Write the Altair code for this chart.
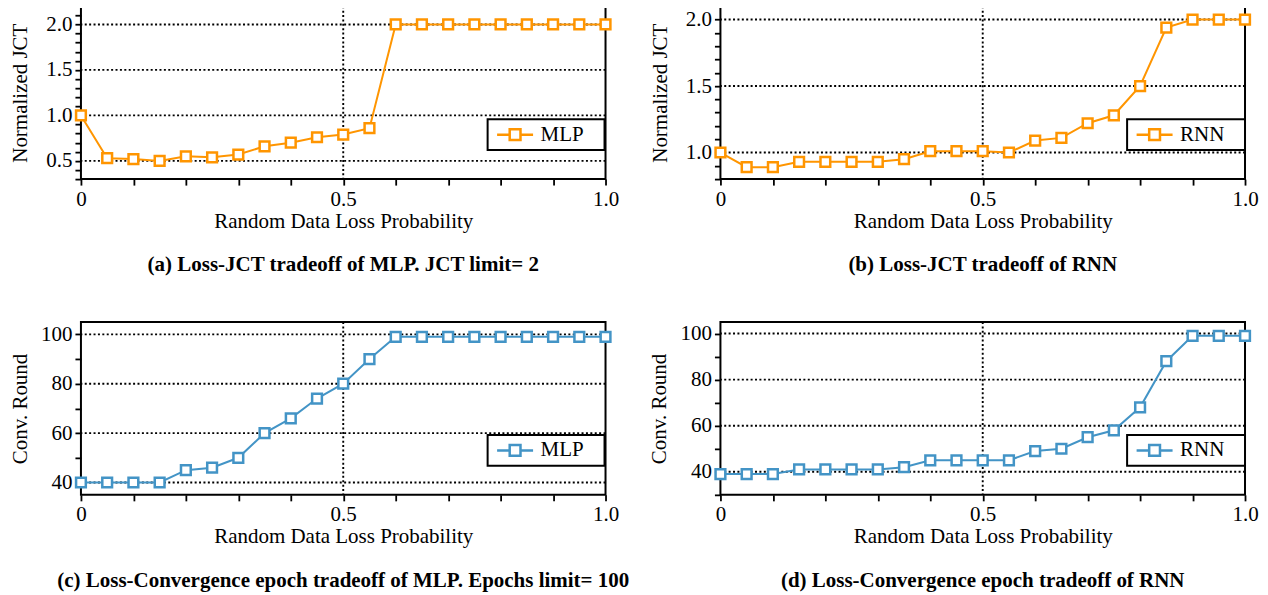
import altair as alt
import pandas as pd

# ---------------- data ----------------
loss_prob = [0.0, 0.05, 0.1, 0.15, 0.2, 0.25, 0.3, 0.35, 0.4, 0.45, 0.5,
             0.55, 0.6, 0.65, 0.7, 0.75, 0.8, 0.85, 0.9, 0.95, 1.0]
jct_mlp = [1.0, 0.53, 0.52, 0.50, 0.55, 0.54, 0.57, 0.66, 0.70, 0.76, 0.79,
           0.86, 2.0, 2.0, 2.0, 2.0, 2.0, 2.0, 2.0, 2.0, 2.0]
jct_rnn = [1.0, 0.89, 0.89, 0.93, 0.93, 0.93, 0.93, 0.95, 1.01, 1.01, 1.01,
           1.0, 1.09, 1.11, 1.22, 1.28, 1.50, 1.94, 2.0, 2.0, 2.0]
conv_mlp = [40, 40, 40, 40, 45, 46, 50, 60, 66, 74, 80,
            90, 99, 99, 99, 99, 99, 99, 99, 99, 99]
conv_rnn = [39, 39, 39, 41, 41, 41, 41, 42, 45, 45, 45,
            45, 49, 50, 55, 58, 68, 88, 99, 99, 99]

x_ticks = [0.0, 0.1, 0.2, 0.3, 0.4, 0.5, 0.6, 0.7, 0.8, 0.9, 1.0]
x_grid = [0.5]
jct_mlp_ticks = [0.3, 0.4, 0.5, 0.6, 0.7, 0.8, 0.9, 1.0, 1.1, 1.2, 1.3, 1.4,
                 1.5, 1.6, 1.7, 1.8, 1.9, 2.0, 2.1, 2.2]
jct_mlp_grid = [0.5, 1.0, 1.5, 2.0]
jct_rnn_ticks = [0.8, 0.9, 1.0, 1.1, 1.2, 1.3, 1.4, 1.5, 1.6, 1.7, 1.8, 1.9,
                 2.0, 2.1]
jct_rnn_grid = [1.0, 1.5, 2.0]
conv_mlp_ticks = [40, 50, 60, 70, 80, 90, 100]
conv_rnn_ticks = [30, 40, 50, 60, 70, 80, 90, 100]
conv_grid = [40, 60, 80, 100]

captions = [
    "(a) Loss-JCT tradeoff of MLP. JCT limit= 2",
    "(b) Loss-JCT tradeoff of RNN",
    "(c) Loss-Convergence epoch tradeoff of MLP. Epochs limit= 100",
    "(d) Loss-Convergence epoch tradeoff of RNN",
]

ORANGE = "#ff9500"
BLUE = "#4394c6"
FONT = "Liberation Serif"
FS = 21
W, H = 525, 173

LEGEND_PATH = "M-1,0H1.1M2.9,0H5M1.1,-0.9H2.9V0.9H1.1Z"

X_LABELS = ("datum.value == 0 ? '0' : (abs(datum.value*2 - round(datum.value*2)) < 0.001 "
            "? format(datum.value, '.1f') : '')")
JCT_LABELS = ("abs(datum.value*2 - round(datum.value*2)) < 0.001 "
              "? format(datum.value, '.1f') : ''")
CONV_LABELS = "datum.value % 20 == 0 ? datum.label : ''"

GRID_STYLE = dict(color="black", strokeDash=[2, 2.4], strokeWidth=1.9)


def panel(values, series, color, ytitle, ydomain, yticks, ylabels, ygrid,
          caption, title_pad):
    df = pd.DataFrame({"p": loss_prob, "v": values, "series": [series] * len(values)})
    xscale = alt.Scale(domain=[0, 1], nice=False, zero=False)
    yscale = alt.Scale(domain=ydomain, nice=False, zero=False)
    x = alt.X("p:Q", scale=xscale,
              axis=alt.Axis(values=x_ticks, labelExpr=X_LABELS,
                            title="Random Data Loss Probability"))
    y = alt.Y("v:Q", scale=yscale,
              axis=alt.Axis(values=yticks, labelExpr=ylabels, title=ytitle,
                            titlePadding=title_pad))
    col = alt.Color("series:N",
                    scale=alt.Scale(domain=[series], range=[color]),
                    legend=alt.Legend(
                        title=None, orient="none", legendX=407, legendY=113,
                        strokeColor="black", fillColor="white", padding=5,
                        symbolType=LEGEND_PATH, symbolSize=144,
                        symbolStrokeWidth=2.5, symbolFillColor="white",
                        labelFont=FONT, labelFontSize=FS, labelColor="black",
                        labelOffset=27,
                        labelExpr="datum.label + '\u2800'"))
    hgrid = alt.Chart(pd.DataFrame({"v": ygrid})).mark_rule(**GRID_STYLE).encode(y=y)
    vgrid = alt.Chart(pd.DataFrame({"p": x_grid})).mark_rule(**GRID_STYLE).encode(x=x)
    base = alt.Chart(df)
    line = base.mark_line(strokeWidth=2).encode(x=x, y=y, color=col)
    pts = base.mark_point(shape="square", size=95, strokeWidth=2.5, filled=False,
                          fill="white", fillOpacity=1, opacity=1).encode(
        x=x, y=y, color=col)
    return alt.layer(hgrid, vgrid, line, pts).properties(
        width=W, height=H,
        title=alt.TitleParams(caption, orient="bottom", offset=23,
                              font=FONT, fontSize=FS, fontWeight="bold",
                              color="black"))


pa = panel(jct_mlp, "MLP", ORANGE, "Normalized JCT", [0.3, 2.2], jct_mlp_ticks,
           JCT_LABELS, jct_mlp_grid, captions[0], 15)
pb = panel(jct_rnn, "RNN", ORANGE, "Normalized JCT", [0.8, 2.1], jct_rnn_ticks,
           JCT_LABELS, jct_rnn_grid, captions[1], 15)
pc = panel(conv_mlp, "MLP", BLUE, "Conv. Round", [35, 105], conv_mlp_ticks,
           CONV_LABELS, conv_grid, captions[2], 10)
pd_ = panel(conv_rnn, "RNN", BLUE, "Conv. Round", [30, 105], conv_rnn_ticks,
            CONV_LABELS, conv_grid, captions[3], 10)

chart = alt.concat(
    pa, pb, pc, pd_, columns=2,
    spacing={"row": 143, "column": 115}, bounds="flush"
).resolve_scale(
    color="independent", x="independent", y="independent"
).properties(
    padding={"left": 0, "top": -14, "right": 0, "bottom": 0}
).configure_view(
    stroke="black", strokeWidth=2
).configure_axis(
    grid=False, domain=False, tickColor="black", tickWidth=1.8, tickSize=6,
    labelFont=FONT, labelFontSize=FS, labelColor="black", labelPadding=3,
    labelFlush=False, labelOverlap=False,
    titleFont=FONT, titleFontSize=FS, titleFontWeight="normal", titleColor="black"
).configure_axisX(
    titlePadding=1
).configure_legend(
    strokeWidth=2
)

chart.save("out.html", embed_options={"renderer": "svg", "actions": False})
